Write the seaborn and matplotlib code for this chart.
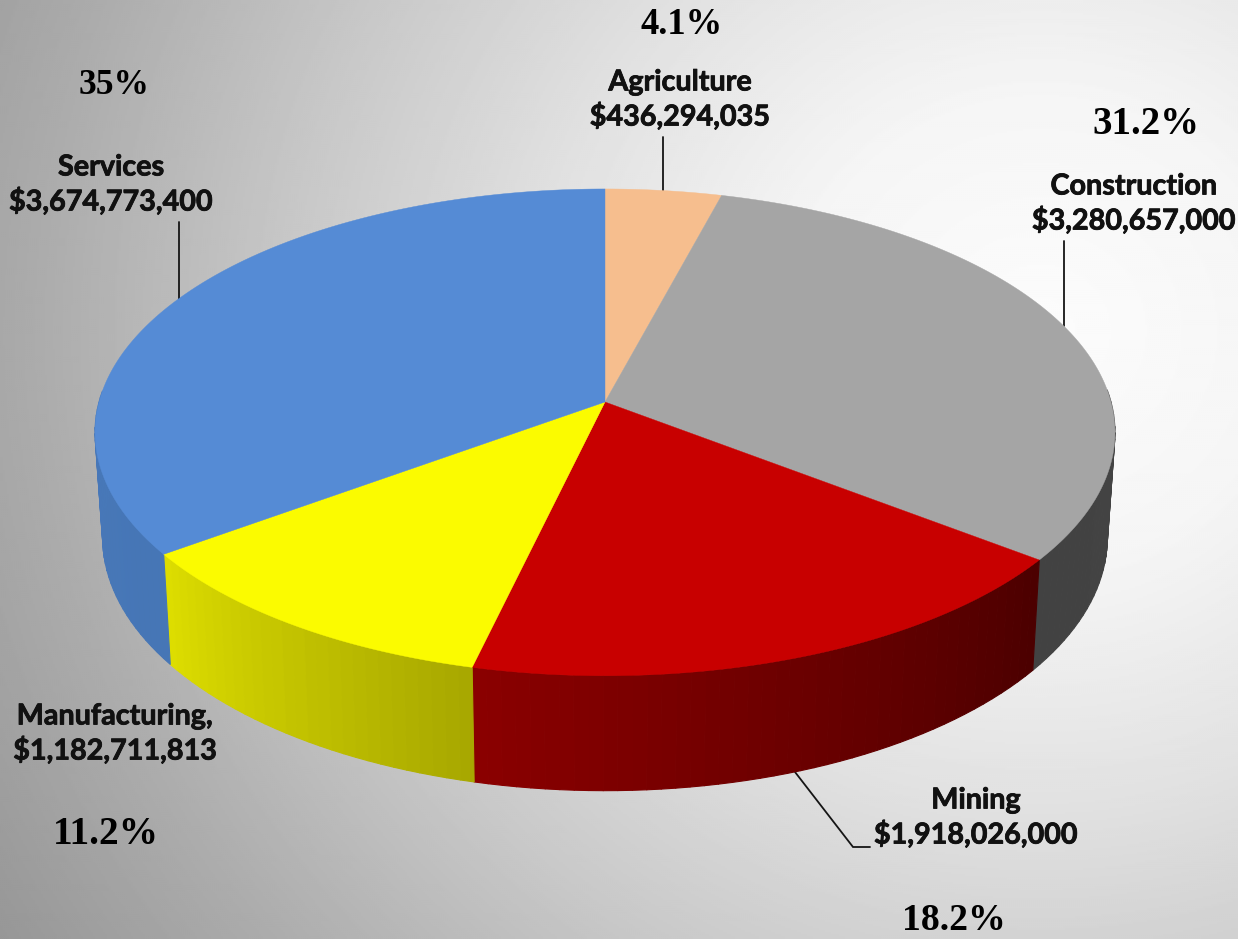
import numpy as np
import pandas as pd
import matplotlib
matplotlib.use("Agg")
import matplotlib.pyplot as plt
import matplotlib.patheffects as pe
from matplotlib.collections import PolyCollection
import seaborn as sns

# Industry output figures, clockwise from twelve o'clock
sectors = ["Agriculture", "Construction", "Mining", "Manufacturing,", "Services"]
dollars = [436294035, 3280657000, 1918026000, 1182711813, 3674773400]
shares = ["4.1%", "31.2%", "18.2%", "11.2%", "35%"]

top_colors = ["#F6BE8E", "#A5A5A5", "#C80000", "#FBFB00", "#558BD5"]
wall_start = ["#C89A70", "#464646", "#4C0000", "#A8A800", "#4676B6"]
wall_end = ["#C89A70", "#424242", "#8A0000", "#DDDD00", "#4B7CBE"]

# Label layout: text centre, share-text centre, share font size, leader path
label_xy = [(680, 100), (1134, 204), (976, 818), (115, 734), (111, 185)]
share_xy = [(682, 24), (1146, 124), (954, 921), (106, 834), (114, 85)]
share_pt = [26.3, 28, 27.2, 28.4, 25.6]
leaders = [
    [(663, 137), (663, 191)],
    [(1064, 241), (1064, 326)],
    [(795, 772), (853, 847), (870, 847)],
    [],
    [(179, 222), (179, 299)],
]

# Projection of the unit disc onto the page
CX, CY = 605.0, 402.0
RX, RY, PERSP = 506.0, 239.6, 0.1247
DEPTH, LOWER_SX, LOWER_SY = 104.0, 0.985, 1.04

frame = pd.DataFrame({"sector": sectors, "dollars": dollars, "share": shares})
frame["sweep"] = frame["dollars"] / frame["dollars"].sum() * 2 * np.pi
frame["end"] = frame["sweep"].cumsum()
frame["start"] = frame["end"] - frame["sweep"]


def rim(theta, lower=False):
    u, v = np.sin(theta), np.cos(theta)
    w = 1 + PERSP * v
    x, y = RX * u / w, -RY * v / w
    if lower:
        return CX + LOWER_SX * x, CY + DEPTH + LOWER_SY * y
    return CX + x, CY + y


sns.set_theme(style="white")
fig = plt.figure(figsize=(12.38, 9.39), dpi=100)
ax = fig.add_axes([0, 0, 1, 1])
ax.set_xlim(0, 1238)
ax.set_ylim(939, 0)
ax.axis("off")

# Radial grey backdrop, brightest right of the pie
gx, gy = np.meshgrid(np.arange(0, 1238, 2), np.arange(0, 939, 2))
dist = np.hypot(gx - 1040, (gy - 330) * 1.05)
shade = np.interp(dist, [0, 250, 500, 750, 1000, 1250], [252, 245, 225, 200, 172, 148])
ax.imshow(shade, cmap="gray", vmin=0, vmax=255, extent=(0, 1238, 939, 0),
          aspect="auto", interpolation="bilinear", zorder=0)

# Outer walls, one narrow strip per step so the shading can run along each slice;
# strips on the far side are hidden by the top face and are left out
for row, first, last in zip(frame.itertuples(), wall_start, wall_end):
    n = max(int(row.sweep * 40), 4)
    steps = np.linspace(row.start, row.end, n + 1)
    ramp = sns.blend_palette([first, last], n)
    quads, fills = [], []
    for a, b, tone in zip(steps[:-1], steps[1:], ramp):
        if np.cos((a + b) / 2) < 0.05:
            quads.append([rim(a), rim(b), rim(b, True), rim(a, True)])
            fills.append(tone)
    ax.add_collection(PolyCollection(quads, facecolors=fills, edgecolors=fills,
                                     linewidths=0.8, zorder=2))

# Top faces
for row, color in zip(frame.itertuples(), top_colors):
    arc = np.linspace(row.start, row.end, 240)
    xs, ys = rim(arc)
    ax.fill(np.r_[CX, xs], np.r_[CY, ys], color=color, lw=0.3, zorder=3)

# Leaders and labels
for path in leaders:
    if path:
        ax.plot(*zip(*path), color="#151515", lw=1.3, zorder=1,
                solid_joinstyle="miter")

for name, amount, pos in zip(sectors, dollars, label_xy):
    ax.text(pos[0], pos[1], f"{name}\n${amount:,}", family="Lato", weight="bold",
            fontsize=20.7, color="#111111", ha="center", va="center",
            linespacing=1.3, zorder=4,
            path_effects=[pe.withStroke(linewidth=0.6, foreground="#111111")])

for text, pos, size in zip(shares, share_xy, share_pt):
    ax.text(pos[0], pos[1], text, family="Liberation Serif", weight="bold",
            fontsize=size, color="black", ha="center", va="center", zorder=4)

fig.savefig("out.png", dpi=100)
